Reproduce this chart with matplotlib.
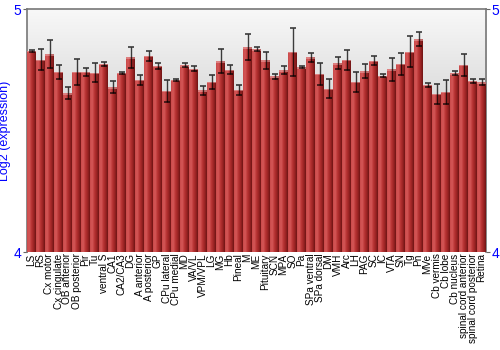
import numpy as np
import matplotlib
matplotlib.use('Agg')
import matplotlib.pyplot as plt
from matplotlib.colors import LinearSegmentedColormap

plt.rcParams['font.family'] = ['Liberation Sans', 'DejaVu Sans']

# regioes e valores
regioes = ['LS', 'RS', 'Cx motor', 'Cx cingulate', 'OB anterior', 'OB posterior', 'Pir', 'Tu',
           'ventral S', 'CA1', 'CA2/CA3', 'DG', 'A anterior', 'A posterior', 'GP', 'CPu lateral',
           'CPu medial', 'MD', 'VA/VL', 'VPM/VPL', 'LG', 'MG', 'Hb', 'Pineal', 'M', 'ME',
           'Pituitary', 'SCN', 'MPA', 'SO', 'Pa', 'SPa ventral', 'SPa dorsal', 'DM', 'VMH', 'Arc',
           'LH', 'PAG', 'SC', 'IC', 'VTA', 'SN', 'Tg', 'Pn', 'MVe', 'Cb vermis', 'Cb lobe',
           'Cb nucleus', 'spinal cord anterior', 'spinal cord posterior', 'Retina']
media = [4.829, 4.792, 4.816, 4.742, 4.655, 4.742, 4.743, 4.740, 4.775, 4.680, 4.738, 4.803,
         4.710, 4.808, 4.768, 4.665, 4.710, 4.770, 4.755, 4.666, 4.702, 4.786, 4.752, 4.669,
         4.845, 4.836, 4.791, 4.724, 4.750, 4.825, 4.761, 4.802, 4.734, 4.674, 4.778, 4.792,
         4.701, 4.746, 4.788, 4.727, 4.753, 4.776, 4.826, 4.877, 4.690, 4.652, 4.660, 4.737,
         4.772, 4.705, 4.700]
erro = [0.005, 0.043, 0.057, 0.030, 0.024, 0.053, 0.017, 0.041, 0.008, 0.024, 0.003, 0.043,
        0.021, 0.019, 0.012, 0.046, 0.005, 0.008, 0.010, 0.017, 0.029, 0.049, 0.017, 0.021,
        0.053, 0.008, 0.035, 0.009, 0.015, 0.099, 0.004, 0.018, 0.044, 0.039, 0.024, 0.042,
        0.042, 0.030, 0.019, 0.006, 0.047, 0.046, 0.063, 0.028, 0.008, 0.042, 0.050, 0.008,
        0.046, 0.010, 0.012]

fig = plt.figure(figsize=(5, 3.5), dpi=100)
ax = fig.add_axes([0.054, 0.28, 0.918, 0.693])

x = np.arange(len(regioes))
ax.set_xlim(-0.5, len(regioes) - 0.5)
ax.set_ylim(4, 5)

# fundo em degrade (cinza em cima, claro embaixo)
fundo = LinearSegmentedColormap.from_list('fundo', ['#f4f4f4', '#d2d2d2', '#f8f8f8'])
grad = np.linspace(0, 1, 256).reshape(-1, 1)
ax.imshow(grad, cmap=fundo, aspect='auto', extent=[-0.5, len(regioes) - 0.5, 5, 4],
          zorder=0, interpolation='bilinear')

# barras com degrade horizontal
verm = LinearSegmentedColormap.from_list('verm', ['#c94a4a', '#d55858', '#b83434', '#9c2424', '#6e1414'])
hgrad = np.linspace(0, 1, 64).reshape(1, -1)
barras = ax.bar(x, np.array(media) - 4, bottom=4, width=0.9, color='#b03030', zorder=2)
for b in barras:
    x0, y0 = b.get_x(), b.get_y()
    w, h = b.get_width(), b.get_height()
    im = ax.imshow(hgrad, cmap=verm, aspect='auto', extent=[x0, x0 + w, y0, y0 + h],
                   zorder=3, interpolation='bilinear')
    im.set_clip_path(b)
    # tampa clara no topo
    ax.add_patch(plt.Rectangle((x0, y0 + h - 0.006), w, 0.006, color='#e8a0a0', alpha=0.6, zorder=4, lw=0))

ax.errorbar(x, media, yerr=erro, fmt='none', ecolor='black', elinewidth=1.0, capsize=2.5,
            capthick=1.2, alpha=0.75, zorder=5)

ax.set_xticks(x)
ax.set_xticklabels(regioes, rotation=90, fontsize=7.2)
ax.tick_params(axis='x', length=0, pad=1)
ax.set_yticks([4, 5])
ax.tick_params(axis='y', labelcolor='blue', labelsize=10, length=3, color='#666666',
               left=True, right=True, labelleft=True, labelright=True, pad=1)
ax.set_ylabel('Log2 (expression)', color='blue', fontsize=9, labelpad=2)

for s in ax.spines.values():
    s.set_color('#777777')
    s.set_linewidth(1.2)
ax.spines['bottom'].set_visible(False)

fig.savefig('out.png', dpi=100)
